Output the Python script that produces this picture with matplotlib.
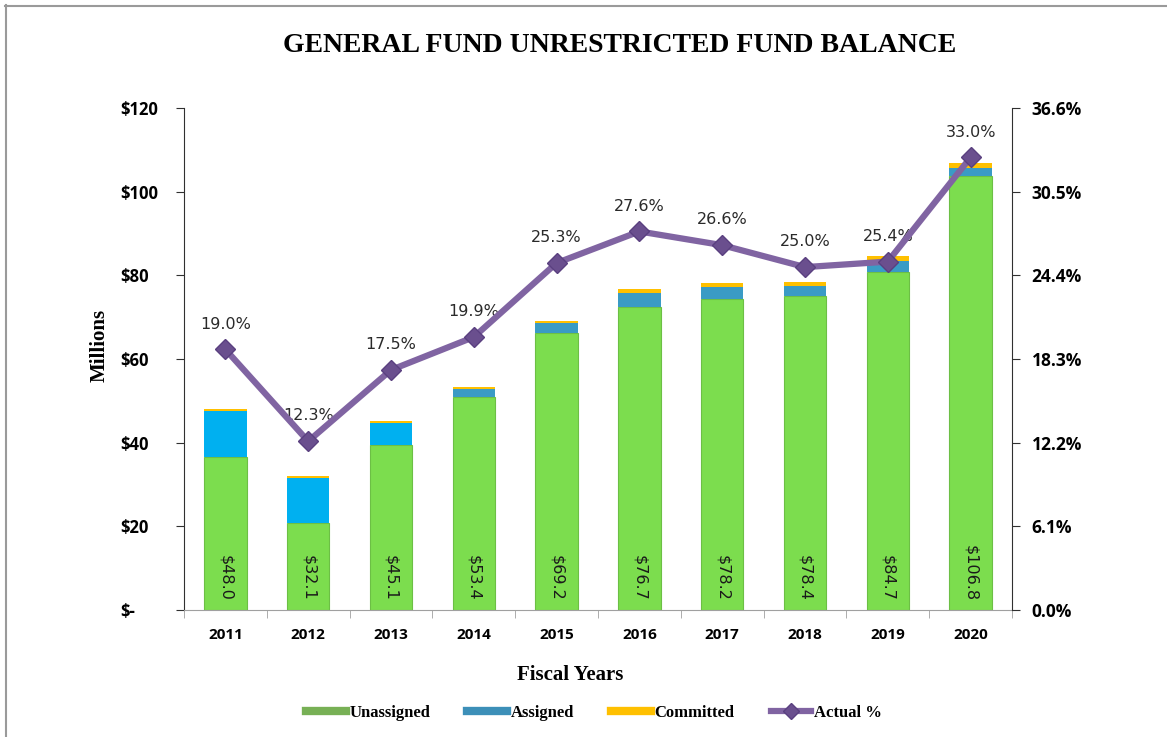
import matplotlib.pyplot as plt
from matplotlib.lines import Line2D

# Data (millions / percent)
years = ["2011", "2012", "2013", "2014", "2015", "2016", "2017", "2018", "2019", "2020"]
unassigned = [36.6, 20.8, 39.4, 50.8, 66.2, 72.4, 74.3, 75.0, 80.8, 103.7]
assigned = [11.0, 10.8, 5.3, 2.0, 2.3, 3.4, 2.9, 2.4, 2.7, 1.9]
committed = [0.4, 0.5, 0.4, 0.6, 0.7, 0.9, 1.0, 1.0, 1.2, 1.2]
totals = [48.0, 32.1, 45.1, 53.4, 69.2, 76.7, 78.2, 78.4, 84.7, 106.8]
actual_pct = [19.0, 12.3, 17.5, 19.9, 25.3, 27.6, 26.6, 25.0, 25.4, 33.0]

left_ticks = [0, 20, 40, 60, 80, 100, 120]
left_labels = ["$-", "$20", "$40", "$60", "$80", "$100", "$120"]
right_ticks = [0.0, 6.1, 12.2, 18.3, 24.4, 30.5, 36.6]

# assigned colour: bright blue in the early years, teal later
assigned_colors = ["#00B0F0", "#00B0F0", "#00B0F0"] + ["#3A9BC5"] * 7

serif = "Liberation Serif"
sans_bold = "Open Sans"

fig = plt.figure(figsize=(11.67, 7.37), dpi=100)
ax = fig.add_axes([184 / 1167, 1 - 610 / 737, 828 / 1167, 502 / 737])

x = list(range(len(years)))
w = 0.51
ax.bar(x, unassigned, w, color="#7CDD4E", edgecolor="#6CBF45", linewidth=0.8)
ax.bar(x, assigned, w, bottom=unassigned, color=assigned_colors, linewidth=0)
bottom3 = [u + a for u, a in zip(unassigned, assigned)]
ax.bar(x, committed, w, bottom=bottom3, color="#FFC000", linewidth=0)

for xi, t in zip(x, totals):
    ax.text(xi, 2.2, f"${t:.1f}", rotation=270, ha="center", va="bottom",
            fontsize=11.5, color="#1a1a1a", family="DejaVu Sans")

ax.set_xlim(-0.5, len(years) - 0.5)
ax.set_ylim(0, 120)
ax.set_yticks(left_ticks)
ax.set_yticklabels(left_labels, fontsize=12, fontweight="bold", family=sans_bold)
ax.set_xticks(x)
ax.set_xticklabels(years, fontsize=11, fontweight="bold", family=sans_bold)
ax.tick_params(axis="x", length=0, pad=13)
ax.set_xticks([i - 0.5 for i in range(len(years) + 1)], minor=True)
ax.tick_params(axis="x", which="minor", length=6, color="#a0a0a0")
ax.tick_params(axis="y", length=6, pad=40, color="#303030")
for lab in ax.get_yticklabels():
    lab.set_horizontalalignment("left")
ax.spines["top"].set_visible(False)
ax.spines["right"].set_visible(False)
ax.spines["bottom"].set_color("#a0a0a0")
ax.spines["left"].set_color("#303030")

ax2 = ax.twinx()
ax2.plot(x, actual_pct, color="#8064A2", linewidth=4.5, marker="D", markersize=10,
         markerfacecolor="#6A4F8E", markeredgecolor="#5A4080", zorder=5)
for xi, p in zip(x, actual_pct):
    ax2.text(xi, p + 1.3, f"{p:.1f}%", ha="center", va="bottom", fontsize=11.5,
             color="#2a2a2a", family="DejaVu Sans")
ax2.set_ylim(0, 36.6)
ax2.set_yticks(right_ticks)
ax2.set_yticklabels([f"{t:.1f}%" for t in right_ticks], fontsize=12.5,
                    fontweight="bold", family=sans_bold)
ax2.tick_params(axis="y", length=6, pad=8, color="#303030")
for s in ["top", "left", "bottom"]:
    ax2.spines[s].set_visible(False)
ax2.spines["right"].set_color("#303030")

fig.text(620 / 1167, 1 - 45 / 737, "GENERAL FUND UNRESTRICTED FUND BALANCE",
         ha="center", va="center", fontsize=20, fontweight="bold", family=serif)
fig.text(100 / 1167, 1 - 345 / 737, "Millions", rotation=90, ha="center", va="center",
         fontsize=15, fontweight="bold", family=serif)
fig.text(570 / 1167, 1 - 675 / 737, "Fiscal Years", ha="center", va="center",
         fontsize=15, fontweight="bold", family=serif)

handles = [
    Line2D([], [], color="#77B055", linewidth=6),
    Line2D([], [], color="#3C8FB8", linewidth=6),
    Line2D([], [], color="#FFC000", linewidth=6),
    Line2D([], [], color="#8064A2", linewidth=4.5, marker="D", markersize=8,
           markerfacecolor="#6A4F8E", markeredgecolor="#5A4080"),
]
fig.legend(handles, ["Unassigned", "Assigned", "Committed", "Actual %"],
           loc="center", bbox_to_anchor=(594 / 1167, 1 - 713 / 737), ncol=4,
           frameon=False, handlelength=2.4, handletextpad=0.2, columnspacing=2.2,
           prop={"family": serif, "weight": "bold", "size": 12})

# grey frame on top and left edges
fig.add_artist(Line2D([5 / 1167, 1], [1 - 5.5 / 737, 1 - 5.5 / 737], color="#9a9a9a",
                      linewidth=1.5, transform=fig.transFigure))
fig.add_artist(Line2D([5.5 / 1167, 5.5 / 1167], [0, 1 - 5 / 737], color="#9a9a9a",
                      linewidth=1.5, transform=fig.transFigure))

fig.savefig("out.png", dpi=100)
